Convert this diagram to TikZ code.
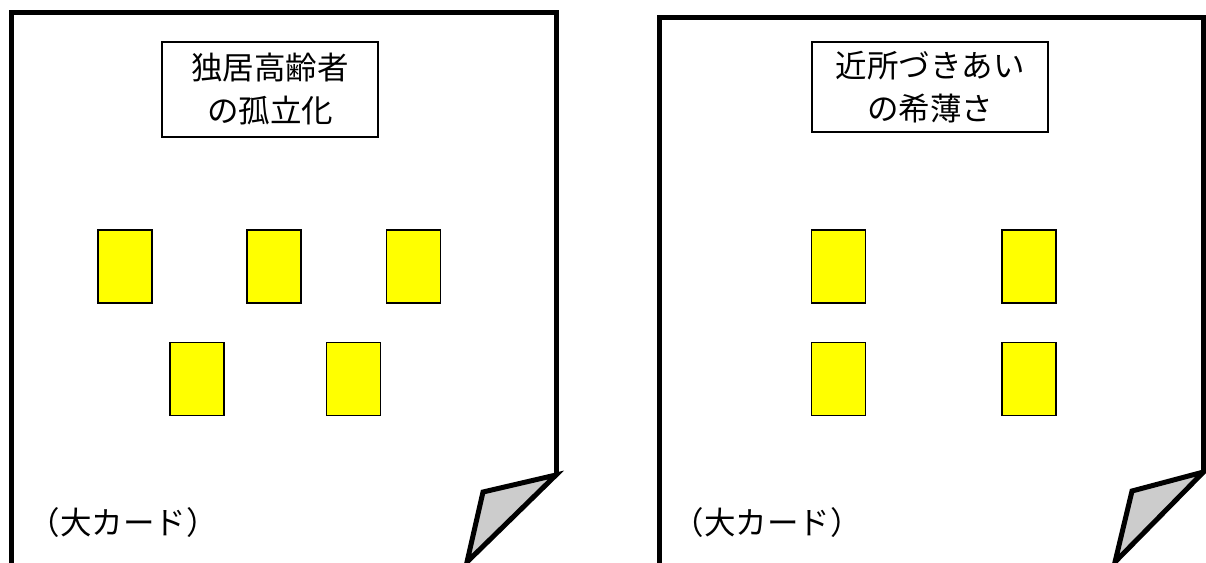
\documentclass[tikz,border=0pt]{standalone}
\usepackage{fontspec}
\newfontfamily\jp{Noto Sans CJK JP}
\definecolor{foldgray}{HTML}{CCCCCC}
\definecolor{cardyellow}{HTML}{FFFF00}
\begin{document}
\begin{tikzpicture}[x=1pt,y=-1pt,
  cardline/.style={line width=5pt, line join=miter},
  foldpart/.style={line width=5pt, fill=foldgray, line join=miter},
  titlebox/.style={draw, line width=1.3pt, font=\jp\fontsize{31.5}{43}\selectfont, align=center, inner sep=0pt},
  ycard/.style={draw, fill=cardyellow, line width=1.5pt, minimum width=54pt, minimum height=73pt, inner sep=0pt},
  cardlabel/.style={font=\jp\fontsize{31.5}{36}\selectfont, inner sep=0pt}]
\useasboundingbox (0,0) rectangle (1206,562);
\fill[white] (0,0) rectangle (1206,562);
% left card
\coordinate (lc1) at (11,575);
\coordinate (lc2) at (11,12);
\coordinate (lc3) at (556,12);
\coordinate (lc4) at (556,475);
\coordinate (lf1) at (483,492);
\coordinate (lf2) at (467,562);
\draw[cardline] (lc1) -- (lc2) -- (lc3) -- (lc4);
\draw[foldpart] (lc4) -- (lf1) -- (lf2) -- cycle;
% right card
\coordinate (rc1) at (659,575);
\coordinate (rc2) at (659,17.5);
\coordinate (rc3) at (1203.5,17.5);
\coordinate (rc4) at (1203.5,472);
\coordinate (rf1) at (1132,491);
\coordinate (rf2) at (1115,562);
\draw[cardline] (rc1) -- (rc2) -- (rc3) -- (rc4);
\draw[foldpart] (rc4) -- (rf1) -- (rf2) -- cycle;
% titles
\node[titlebox, minimum width=216pt, minimum height=95pt] (t1) at (270,89.5) {独居高齢者\\の孤立化};
\node[titlebox, minimum width=236pt, minimum height=90pt] (t2) at (930,87) {近所づきあい\\の希薄さ};
% small cards left
\node[ycard] (a1) at (125,266.5) {};
\node[ycard] (a2) at (274,266.5) {};
\node[ycard] (a3) at (413.5,266.5) {};
\node[ycard] (a4) at (197,379) {};
\node[ycard] (a5) at (353.5,379) {};
% small cards right
\node[ycard] (b1) at (838.5,266.5) {};
\node[ycard] (b2) at (1029,266.5) {};
\node[ycard] (b3) at (838.5,379) {};
\node[ycard] (b4) at (1029,379) {};
% labels
\node[cardlabel] (l1) at (123,523) {（大カード）};
\node[cardlabel] (l2) at (767,523) {（大カード）};
\end{tikzpicture}
\end{document}
